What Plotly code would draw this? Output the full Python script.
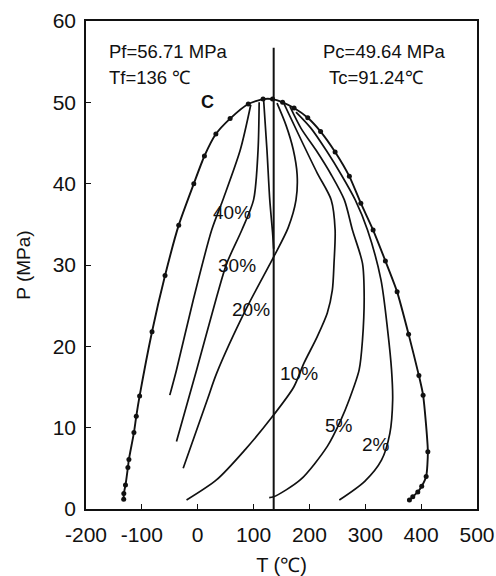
import plotly.graph_objects as go

# Phase envelope (bubble-point branch on the left, dew-point branch on the right)
env_T = [-132.5, -132.3, -129.3, -125, -123.2, -114.2, -110, -104, -81.8, -58.5, -34, -7, 12, 32.5,
         58, 90.5, 117, 134, 152, 172.5, 197, 220, 246, 271.5, 292, 314, 336, 357, 377.5, 396,
         403.5, 412, 409, 401, 394, 385, 379]
env_P = [1.2, 1.9, 2.95, 5.1, 6.1, 9.4, 11.4, 13.9, 21.8, 28.7, 34.9, 40.0, 43.4, 46.1,
         48.0, 49.8, 50.4, 50.4, 50.0, 49.3, 48.1, 46.4, 43.9, 40.9, 37.6, 34.3, 30.5, 26.7, 21.5, 16.4,
         14.0, 7.05, 4.0, 2.8, 2.1, 1.5, 1.1]

# Quality (liquid fraction) lines
q40_T = [-50, -38, -8, 25, 45, 76, 95]
q40_P = [14.0, 17.1, 25.7, 34.3, 38.0, 44.1, 49.7]

q30_T = [-38, -2, 34, 52, 79, 100, 108, 110]
q30_P = [8.3, 17.1, 26.1, 30.2, 34.3, 38.0, 44.1, 50.0]

q20_T = [-26, 17, 34, 86, 136, 162, 176, 178, 171, 158, 142]
q20_P = [5.0, 13.4, 16.7, 24.5, 31.0, 34.6, 38.0, 41.1, 44.2, 47.2, 49.9]

q15_T = [118, 124, 129, 134, 136]
q15_P = [50.3, 44.1, 38.0, 34.0, 32.0]

q10_T = [-20, 34, 85, 133, 172, 190, 214, 232, 241, 244, 246, 239, 214, 185, 154]
q10_P = [1.1, 3.6, 7.3, 11.3, 15.0, 17.9, 21.2, 24.1, 26.9, 30.2, 34.3, 38.0, 41.3, 45.4, 49.9]

q5_T = [128, 136, 184, 232, 256, 271, 289, 295, 298, 295, 277, 262.5, 239, 212, 185, 165]
q5_P = [1.4, 1.5, 3.6, 7.7, 10.9, 13.4, 17.1, 20.8, 26.1, 30.2, 34.3, 38.0, 41.1, 44.1, 46.8, 49.5]

q2_T = [253.5, 299, 329, 344, 349, 347, 340, 328, 304, 282, 257, 230, 203, 176]
q2_P = [1.1, 3.4, 6.0, 9.3, 13.4, 17.1, 22.0, 28.2, 34.3, 38.0, 41.1, 44.1, 46.8, 48.8]

# Cricondentherm line and critical-point data
Tf, Pf = 136, 56.71
Tc, Pc = 91.24, 49.64

# Quality labels: text, T, P
q_labels = ["40%", "30%", "20%", "10%", "5%", "2%"]
q_label_T = [62, 70, 95, 181, 253, 320]
q_label_P = [36.4, 30.0, 24.5, 16.7, 10.3, 7.9]

x_ticks = [-200, -100, 0, 100, 200, 300, 400, 500]
x_tick_text = ["-200", "-100", "0", "100", "200", "300", "400", "500"]
y_ticks = [0, 10, 20, 30, 40, 50, 60]

FONT = "Liberation Sans, Arial, sans-serif"
INK = "#111111"

fig = go.Figure()

for t, p in [(q40_T, q40_P), (q30_T, q30_P), (q20_T, q20_P), (q15_T, q15_P),
             (q10_T, q10_P), (q5_T, q5_P), (q2_T, q2_P)]:
    fig.add_trace(go.Scatter(x=t, y=p, mode="lines",
                             line=dict(color=INK, width=1.7, shape="spline", smoothing=0.8),
                             hoverinfo="skip", showlegend=False))

fig.add_trace(go.Scatter(x=env_T, y=env_P, mode="lines+markers",
                         line=dict(color=INK, width=1.9, shape="spline", smoothing=0.6),
                         marker=dict(color=INK, size=5),
                         showlegend=False))

fig.add_trace(go.Scatter(x=[Tf, Tf], y=[0, Pf], mode="lines",
                         line=dict(color=INK, width=2), showlegend=False))

for txt, t, p in zip(q_labels, q_label_T, q_label_P):
    fig.add_annotation(x=t, y=p, text=txt, showarrow=False,
                       font=dict(family=FONT, size=19, color=INK))

fig.add_annotation(x=18, y=50.0, text="<b>C</b>", showarrow=False,
                   font=dict(family=FONT, size=18, color=INK))

info = [(f"Pf={Pf} MPa", -162, 56.2), (f"Tf={Tf} ℃", -162, 53.0),
        (f"Pc={Pc} MPa", 220, 56.2), (f"Tc={Tc}℃", 232, 53.0)]
for txt, t, p in info:
    fig.add_annotation(x=t, y=p, text=txt, showarrow=False, xanchor="left",
                       font=dict(family=FONT, size=18.5, color=INK))

axis_common = dict(showline=True, linecolor=INK, linewidth=1.6, mirror=True,
                   ticks="inside", ticklen=5, tickwidth=1.3, tickcolor=INK,
                   showgrid=False, zeroline=False, automargin=False,
                   tickfont=dict(family=FONT, size=21, color=INK))

fig.update_xaxes(range=[-200, 500], tickvals=x_ticks, ticktext=x_tick_text, ticklabelstandoff=6,
                 title=dict(text="T (℃)", font=dict(family=FONT, size=20, color=INK), standoff=14),
                 **axis_common)
fig.update_yaxes(range=[0, 60], tickvals=y_ticks, ticklabelstandoff=4,
                 title=dict(text="P (MPa)", font=dict(family=FONT, size=19, color=INK), standoff=17),
                 **axis_common)

fig.update_layout(width=496, height=576, margin=dict(l=86, r=19, t=21, b=67, autoexpand=False),
                  plot_bgcolor="white", paper_bgcolor="white")

fig.write_html("out.html")
